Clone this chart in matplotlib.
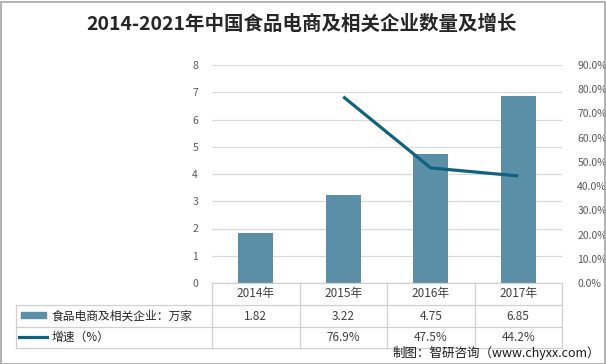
import numpy as np
import matplotlib.pyplot as plt
from matplotlib.patches import Rectangle
from matplotlib.lines import Line2D
import matplotlib.transforms as mtransforms

plt.rcParams['font.family'] = ['Noto Sans CJK SC', 'DejaVu Sans']

# data
years = ['2014年', '2015年', '2016年', '2017年']
companies = [1.82, 3.22, 4.75, 6.85]          # 万家
growth = [np.nan, 76.9, 47.5, 44.2]           # %
bar_label = '食品电商及相关企业：万家'
line_label = '增速（%）'
title = '2014-2021年中国食品电商及相关企业数量及增长'
source = '制图：智研咨询（www.chyxx.com）'

bar_color = '#5B8FA8'
line_color = '#10627F'
grid_color = '#D9D9D9'
border_color = '#D0D0D0'
text_color = '#595959'

W, H = 606, 364
fig = plt.figure(figsize=(W / 100, H / 100), dpi=100)

# axes geometry in pixels
x0, x1, y_top, y_bot = 212, 562, 65, 283
ax = fig.add_axes([x0 / W, 1 - y_bot / H, (x1 - x0) / W, (y_bot - y_top) / H])
ax2 = ax.twinx()

x = np.arange(len(years))
ax.bar(x, companies, width=0.4, color=bar_color, zorder=2)
ax2.plot(x, np.array(growth) / 100, color=line_color, lw=2.3, solid_capstyle='butt', zorder=3)

ax.set_xlim(-0.5, len(years) - 0.5)
ax.set_ylim(0, 8)
ax.set_yticks(range(0, 9))
ax2.set_ylim(0, 0.9)
ax2.set_yticks(np.arange(0, 0.91, 0.1))
ax2.set_yticklabels(['{:.1f}%'.format(v * 100) for v in np.arange(0, 0.91, 0.1)])

ax.grid(axis='y', color=grid_color, lw=0.9, zorder=0)
ax.set_axisbelow(True)
ax.set_xticks([])
for a in (ax, ax2):
    for s in a.spines.values():
        s.set_visible(False)
ax.tick_params(axis='y', length=0, pad=10, labelsize=7.5, labelcolor=text_color)
ax2.tick_params(axis='y', length=0, pad=11, labelsize=7.5, labelcolor=text_color)

# data table below the axes
def ay(py):
    return (y_bot - py) / (y_bot - y_top)

def ax_frac(px):
    return (px - x0) / (x1 - x0)

trans_ax = ax.transAxes
blend = mtransforms.blended_transform_factory(ax.transData, ax.transAxes)

r0, r1, r2, r3 = y_bot, 305, 327, 348
left = ax_frac(16)
lines = [
    ([0, 1], [ay(r0), ay(r0)]),
    ([left, 1], [ay(r1), ay(r1)]),
    ([left, 1], [ay(r2), ay(r2)]),
    ([left, 1], [ay(r3), ay(r3)]),
    ([left, left], [ay(r1), ay(r3)]),
    ([0, 0], [ay(r0), ay(r3)]),
]
for k in range(1, len(years) + 1):
    xf = k / len(years)
    lines.append(([xf, xf], [ay(r0), ay(r3)]))
for xs, ys in lines:
    ax.add_line(Line2D(xs, ys, transform=trans_ax, color=border_color, lw=0.9, clip_on=False))

fs = 8.5
for i, yr in enumerate(years):
    ax.text(i, ay((r0 + r1) / 2), yr, transform=blend, ha='center', va='center',
            fontsize=fs, color='#404040', clip_on=False)
    ax.text(i, ay((r1 + r2) / 2), '{:.2f}'.format(companies[i]), transform=blend,
            ha='center', va='center', fontsize=fs, color='#404040', clip_on=False)
    if not np.isnan(growth[i]):
        ax.text(i, ay((r2 + r3) / 2), '{:.1f}%'.format(growth[i]), transform=blend,
                ha='center', va='center', fontsize=fs, color='#404040', clip_on=False)

# legend keys in the table
ax.add_patch(Rectangle((ax_frac(21), ay(318)), ax_frac(46) - ax_frac(21), ay(312) - ay(318),
                       transform=trans_ax, color=bar_color, clip_on=False))
ax.add_line(Line2D([ax_frac(19), ax_frac(47)], [ay(337), ay(337)], transform=trans_ax,
                   color=line_color, lw=2.3, clip_on=False))
ax.text(ax_frac(52), ay((r1 + r2) / 2), bar_label, transform=trans_ax, ha='left', va='center',
        fontsize=fs, color='#262626', clip_on=False)
ax.text(ax_frac(52), ay((r2 + r3) / 2), line_label, transform=trans_ax, ha='left', va='center',
        fontsize=fs, color='#262626', clip_on=False)

fig.text(302 / W, 1 - 24 / H, title, ha='center', va='center', fontsize=14, fontweight='bold',
         color='#262626')
fig.text(600 / W, 1 - 353 / H, source, ha='right', va='center', fontsize=9, color='#1a1a1a')

# outer frame
fig.add_artist(Rectangle((0.5 / W, 0.5 / H), 1 - 2 / W, 1 - 2 / H, transform=fig.transFigure,
                         fill=False, edgecolor='#A6A6A6', lw=1.2))

fig.savefig('out.png', dpi=100)
